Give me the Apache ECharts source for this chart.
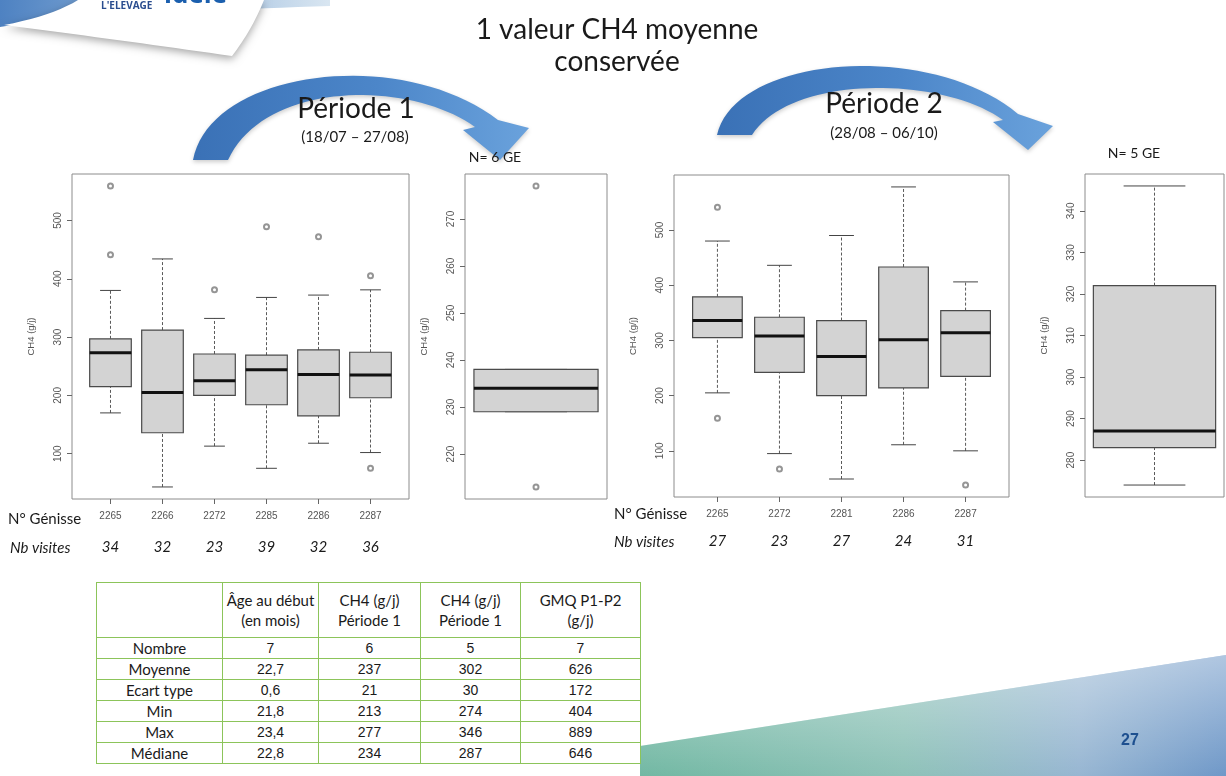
<!DOCTYPE html>
<html><head><meta charset="utf-8">
<script src="https://cdn.jsdelivr.net/npm/echarts@6/dist/echarts.min.js"></script>
<style>
html,body{margin:0;padding:0;background:#fff;width:1226px;height:776px;overflow:hidden;}
#chart{position:absolute;left:0;top:0;width:1226px;height:776px;}
#tbl{position:absolute;left:96px;top:582px;border-collapse:collapse;background:#fff;table-layout:fixed;}
#tbl td{border:1.5px solid #8cc45a;padding:0;text-align:center;color:#1a1a1a;height:20px;line-height:19px;font-family:Lato,"Open Sans",sans-serif;font-size:15px;}
#tbl td.num{font-family:"Liberation Sans",Arial,sans-serif;font-size:14px;}
#tbl tr.head td{height:54px;line-height:20px;}
</style></head><body>
<div id="chart"></div>
<table id="tbl"></table>
<script>
// ---------------- DATA ----------------
// Period 1 : heifers, number of visits, box stats [lower whisker, Q1, median, Q3, upper whisker]
const p1Heifers = ['2265', '2266', '2272', '2285', '2286', '2287'];
const p1Visits = [34, 32, 23, 39, 32, 36];
const p1Boxes = [
  [170, 215, 273, 297, 380],
  [43, 136, 205, 312, 434],
  [113, 200, 225, 271, 332],
  [75, 184, 244, 269, 368],
  [118, 165, 236, 278, 372],
  [102, 196, 235, 274, 381]
];
// outliers: [heifer index, value]
const p1Outliers = [[0, 559], [0, 441], [2, 381], [3, 489], [4, 472], [5, 405], [5, 75]];
// Period 1 : one mean value per heifer (N = 6 GE)
const p1MeanBox = [229, 229, 234, 238, 238];
const p1MeanOutliers = [277, 213];

// Period 2
const p2Heifers = ['2265', '2272', '2281', '2286', '2287'];
const p2Visits = [27, 23, 27, 24, 31];
const p2Boxes = [
  [205, 305, 336, 379, 480],
  [95, 242, 308, 342, 436],
  [49, 200, 271, 336, 490],
  [111, 214, 301, 433, 578],
  [100, 235, 314, 354, 406]
];
const p2Outliers = [[0, 541], [0, 159], [1, 67], [4, 38]];
// Period 2 : one mean value per heifer (N = 5 GE)
const p2MeanBox = [274, 283, 287, 322, 346];
const p2MeanOutliers = [];

// tick labels
const p1Ticks = [100, 200, 300, 400, 500];
const p1MeanTicks = [220, 230, 240, 250, 260, 270];
const p2Ticks = [100, 200, 300, 400, 500, 600];
const p2MeanTicks = [280, 290, 300, 310, 320, 330, 340];

// summary table
const tableHeader = ['', 'Âge au début\n(en mois)', 'CH4 (g/j)\nPériode 1', 'CH4 (g/j)\nPériode 1', 'GMQ P1-P2\n(g/j)'];
const tableRowLabels = ['Nombre', 'Moyenne', 'Ecart type', 'Min', 'Max', 'Médiane'];
const colAge = ['7', '22,7', '0,6', '21,8', '23,4', '22,8'];
const colCh4P1 = ['6', '237', '21', '213', '277', '234'];
const colCh4P2 = ['5', '302', '30', '274', '346', '287'];
const colGmq = ['7', '626', '172', '404', '889', '646'];

// ---------------- TABLE ----------------
(function () {
  const widths = [126, 96, 102, 100, 120];
  const t = document.getElementById('tbl');
  const cg = document.createElement('colgroup');
  widths.forEach(w => { const c = document.createElement('col'); c.style.width = w + 'px'; cg.appendChild(c); });
  t.appendChild(cg);
  const hr = document.createElement('tr'); hr.className = 'head';
  tableHeader.forEach(h => { const td = document.createElement('td'); td.innerHTML = h.replace('\n', '<br>'); hr.appendChild(td); });
  t.appendChild(hr);
  const cols = [colAge, colCh4P1, colCh4P2, colGmq];
  tableRowLabels.forEach((lab, r) => {
    const tr = document.createElement('tr');
    const td0 = document.createElement('td'); td0.textContent = lab; tr.appendChild(td0);
    cols.forEach(c => { const td = document.createElement('td'); td.className = 'num'; td.textContent = c[r]; tr.appendChild(td); });
    t.appendChild(tr);
  });
})();

// ---------------- CHART ----------------
const chart = echarts.init(document.getElementById('chart'), null, { renderer: 'canvas' });

function rRange(vals) { const mn = Math.min(...vals), mx = Math.max(...vals); const d = (mx - mn) * 0.04; return [mn - d, mx + d]; }
function xRange(n) { return [0.5 - 0.04 * n, n + 0.5 + 0.04 * n]; }

function boxRender(halfW, capW) {
  return function (params, api) {
    const x = api.value(0);
    const lo = api.value(1), q1 = api.value(2), med = api.value(3), q3 = api.value(4), hi = api.value(5);
    const pLo = api.coord([x, lo]), pQ1 = api.coord([x, q1]), pMed = api.coord([x, med]), pQ3 = api.coord([x, q3]), pHi = api.coord([x, hi]);
    const left = api.coord([x - halfW, q1])[0], right = api.coord([x + halfW, q1])[0];
    const cl = api.coord([x - capW, lo])[0], cr = api.coord([x + capW, lo])[0];
    const dash = { stroke: '#5a5a5a', lineWidth: 1, lineDash: [3, 2] };
    const solid = { stroke: '#444', lineWidth: 1 };
    return {
      type: 'group', children: [
        { type: 'line', shape: { x1: pLo[0], y1: pLo[1], x2: pQ1[0], y2: pQ1[1] }, style: dash },
        { type: 'line', shape: { x1: pQ3[0], y1: pQ3[1], x2: pHi[0], y2: pHi[1] }, style: dash },
        { type: 'line', shape: { x1: cl, y1: pLo[1], x2: cr, y2: pLo[1] }, style: solid },
        { type: 'line', shape: { x1: cl, y1: pHi[1], x2: cr, y2: pHi[1] }, style: solid },
        { type: 'rect', shape: { x: left, y: pQ3[1], width: right - left, height: pQ1[1] - pQ3[1] }, style: { fill: '#d3d3d3', stroke: '#4a4a4a', lineWidth: 1.2 } },
        { type: 'line', shape: { x1: left, y1: pMed[1], x2: right, y2: pMed[1] }, style: { stroke: '#111', lineWidth: 3 } }
      ]
    };
  };
}

const panels = [
  { grid: { left: 72, top: 174, width: 337, height: 325 }, names: p1Heifers, visits: p1Visits, boxes: p1Boxes, outliers: p1Outliers, ticks: p1Ticks, halfW: 0.4, capW: 0.2, visitMargin: 41 },
  { grid: { left: 465, top: 174, width: 142, height: 325 }, names: null, visits: null, boxes: [p1MeanBox], outliers: p1MeanOutliers.map(v => [0, v]), ticks: p1MeanTicks, halfW: 0.472, capW: 0.236 },
  { grid: { left: 674, top: 175, width: 335, height: 322 }, names: p2Heifers, visits: p2Visits, boxes: p2Boxes, outliers: p2Outliers, ticks: p2Ticks, halfW: 0.4, capW: 0.2, visitMargin: 37 },
  { grid: { left: 1085, top: 174, width: 139, height: 323 }, names: null, visits: null, boxes: [p2MeanBox], outliers: p2MeanOutliers.map(v => [0, v]), ticks: p2MeanTicks, halfW: 0.475, capW: 0.24 }
];

const grids = [], xAxes = [], yAxes = [], series = [];
const axisFont = '"Liberation Sans", Arial, sans-serif';
panels.forEach((p, gi) => {
  grids.push(Object.assign({ show: true, borderColor: '#8c8c8c', borderWidth: 1, backgroundColor: 'transparent', containLabel: false }, p.grid));
  const n = p.boxes.length;
  const xr = xRange(n);
  const allVals = [].concat(...p.boxes, p.outliers.map(o => o[1]));
  const yr = rRange(allVals);
  const cats = p.boxes.map((b, i) => i + 1);
  const xMain = xAxes.length;
  xAxes.push({
    type: 'value', gridIndex: gi, min: xr[0], max: xr[1], position: 'bottom',
    axisLine: { show: false }, splitLine: { show: false },
    axisTick: { show: !!p.names, customValues: cats, length: 5, lineStyle: { color: '#666' } },
    axisLabel: { show: !!p.names, customValues: cats, margin: 12, fontSize: 10, color: '#555', fontFamily: axisFont,
      formatter: v => p.names ? p.names[Math.round(v) - 1] : '' }
  });
  if (p.visits) {
    xAxes.push({
      type: 'value', gridIndex: gi, min: xr[0], max: xr[1], position: 'bottom',
      axisLine: { show: false }, splitLine: { show: false }, axisTick: { show: false },
      axisLabel: { customValues: cats, margin: p.visitMargin, fontSize: 15, fontStyle: 'italic', color: '#1a1a1a', fontFamily: 'Lato, "Open Sans", sans-serif',
        formatter: v => String(p.visits[Math.round(v) - 1]) }
    });
  }
  yAxes.push({
    type: 'value', gridIndex: gi, min: yr[0], max: yr[1],
    axisLine: { show: false }, splitLine: { show: false },
    axisTick: { show: true, customValues: p.ticks, length: 5, lineStyle: { color: '#666' } },
    axisLabel: { customValues: p.ticks, rotate: 90, align: 'center', verticalAlign: 'bottom', margin: 9, fontSize: 10, color: '#555', fontFamily: axisFont },
    name: 'CH4 (g/j)', nameLocation: 'middle', nameRotate: 90, nameGap: 36,
    nameTextStyle: { fontSize: 9.5, color: '#555', fontFamily: axisFont }
  });
  series.push({
    type: 'custom', xAxisIndex: xMain, yAxisIndex: gi,
    renderItem: boxRender(p.halfW, p.capW),
    encode: { x: 0, y: [1, 2, 3, 4, 5] },
    data: p.boxes.map((b, i) => [i + 1].concat(b)),
    silent: true, clip: false
  });
  if (p.outliers.length) {
    series.push({
      type: 'scatter', xAxisIndex: xMain, yAxisIndex: gi,
      symbol: 'emptyCircle', symbolSize: 5,
      itemStyle: { color: '#7a7a7a', borderWidth: 0.8 },
      data: p.outliers.map(o => [o[0] + 1, o[1]]), silent: true
    });
  }
});

// --- decorative shape helpers (bezier sampling into polygons) ---
function cubicPts(p0, p1, p2, p3, n) {
  const out = [];
  for (let i = 0; i <= n; i++) {
    const t = i / n, u = 1 - t;
    out.push([u*u*u*p0[0] + 3*u*u*t*p1[0] + 3*u*t*t*p2[0] + t*t*t*p3[0],
              u*u*u*p0[1] + 3*u*u*t*p1[1] + 3*u*t*t*p2[1] + t*t*t*p3[1]]);
  }
  return out;
}
function quadPts(p0, p1, p2, n) {
  const out = [];
  for (let i = 0; i <= n; i++) {
    const t = i / n, u = 1 - t;
    out.push([u*u*p0[0] + 2*u*t*p1[0] + t*t*p2[0], u*u*p0[1] + 2*u*t*p1[1] + t*t*p2[1]]);
  }
  return out;
}
function arrowPts(tailOut, c1, c2, shaftOut, headR, tip, headL, shaftIn, c3, c4, tailIn) {
  return [].concat(cubicPts(tailOut, c1, c2, shaftOut, 40), [headR, tip, headL], cubicPts(shaftIn, c3, c4, tailIn, 40));
}

const slideFont = 'Lato, "Open Sans", sans-serif';
const arrowFill = { type: 'linear', x: 0, y: 0, x2: 1, y2: 0, colorStops: [
  { offset: 0, color: '#3a71b6' }, { offset: 0.55, color: '#4c86c9' }, { offset: 1, color: '#6aa2dc' }] };
const bannerPts = [[640, 776], [640, 746], [1226, 655], [1226, 776]];

const graphic = [
  // bottom banner
  { type: 'polygon', z: -10, shape: { points: bannerPts },
    style: { fill: { type: 'linear', x: 0, y: 0, x2: 1, y2: 0, colorStops: [
      { offset: 0, color: '#72b8a3' }, { offset: 0.45, color: '#8ec2b8' }, { offset: 0.75, color: '#97b6d2' }, { offset: 1, color: '#6f98c8' }] } } },
  { type: 'polygon', z: -9, shape: { points: bannerPts },
    style: { fill: { type: 'linear', x: 0, y: 0, x2: 0, y2: 1, colorStops: [
      { offset: 0, color: 'rgba(255,255,255,0.45)' }, { offset: 1, color: 'rgba(255,255,255,0)' }] } } },
  { type: 'text', style: { text: '27', x: 1130, y: 741, align: 'center', verticalAlign: 'middle', font: 'bold 16px "Liberation Sans", Arial, sans-serif', fill: '#1d4f8f' } },
  // logo
  { type: 'polygon', z: -5, shape: { points: [[0, 0], [330, 0], [330, 6]].concat(quadPts([330, 6], [200, 10], [80, 18], 16), quadPts([80, 18], [30, 22], [0, 27], 10)) },
    style: { fill: { type: 'linear', x: 0, y: 0, x2: 1, y2: 0, colorStops: [
      { offset: 0, color: '#4e82c2' }, { offset: 0.5, color: '#8fb3da' }, { offset: 1, color: '#d9e6f1' }] } } },
  { type: 'polygon', z: -4, shape: { points: [[78, 0], [264, 0]].concat(quadPts([264, 0], [252, 30], [232, 56], 16), quadPts([232, 56], [120, 40], [4, 25], 20), quadPts([4, 25], [52, 16], [78, 0], 10)) },
    style: { fill: '#ffffff', shadowBlur: 9, shadowColor: 'rgba(0,0,0,0.35)', shadowOffsetY: 3 } },
  { type: 'text', style: { text: "L'ELEVAGE", x: 101, y: 6, verticalAlign: 'middle', font: 'bold 10px "Open Sans", sans-serif', fill: '#2a4d8f' } },
  { type: 'text', style: { text: 'idele', x: 164, y: 9, verticalAlign: 'bottom', font: 'bold 26px "Open Sans", sans-serif', fill: '#1b5fae' } },
  // title
  { type: 'text', style: { text: '1 valeur CH4 moyenne', x: 617, y: 30, align: 'center', verticalAlign: 'middle', font: '28px ' + slideFont, fill: '#1a1a1a' } },
  { type: 'text', style: { text: 'conservée', x: 617, y: 62, align: 'center', verticalAlign: 'middle', font: '28px ' + slideFont, fill: '#1a1a1a' } },
  // arrows
  { type: 'polygon', shape: { points: arrowPts([193, 160], [210, 70], [400, 45], [498, 120], [529, 128], [500, 160], [463, 130], [475, 127], [410, 80], [265, 80], [228, 160]) },
    style: { fill: arrowFill, shadowBlur: 4, shadowColor: 'rgba(0,0,0,0.2)', shadowOffsetY: 2 } },
  { type: 'polygon', shape: { points: arrowPts([717, 135], [735, 55], [930, 40], [1018, 114], [1053, 126], [1028, 150], [993, 122], [1003, 120], [940, 75], [790, 75], [752, 135]) },
    style: { fill: arrowFill, shadowBlur: 4, shadowColor: 'rgba(0,0,0,0.2)', shadowOffsetY: 2 } },
  { type: 'text', style: { text: 'Période 1', x: 356, y: 109, align: 'center', verticalAlign: 'middle', font: '28px ' + slideFont, fill: '#1a1a1a' } },
  { type: 'text', style: { text: '(18/07 – 27/08)', x: 355, y: 137, align: 'center', verticalAlign: 'middle', font: '15px ' + slideFont, fill: '#1a1a1a' } },
  { type: 'text', style: { text: 'Période 2', x: 884, y: 104, align: 'center', verticalAlign: 'middle', font: '28px ' + slideFont, fill: '#1a1a1a' } },
  { type: 'text', style: { text: '(28/08 – 06/10)', x: 884, y: 133, align: 'center', verticalAlign: 'middle', font: '15px ' + slideFont, fill: '#1a1a1a' } },
  { type: 'text', style: { text: 'N= 6 GE', x: 495, y: 157, align: 'center', verticalAlign: 'middle', font: '14px ' + slideFont, fill: '#1a1a1a' } },
  { type: 'text', style: { text: 'N= 5 GE', x: 1134, y: 153, align: 'center', verticalAlign: 'middle', font: '14px ' + slideFont, fill: '#1a1a1a' } },
  // row captions
  { type: 'text', style: { text: 'N° Génisse', x: 8, y: 519, verticalAlign: 'middle', font: '15px ' + slideFont, fill: '#1a1a1a' } },
  { type: 'text', style: { text: 'Nb visites', x: 10, y: 548, verticalAlign: 'middle', font: 'italic 15px ' + slideFont, fill: '#1a1a1a' } },
  { type: 'text', style: { text: 'N° Génisse', x: 614, y: 514, verticalAlign: 'middle', font: '15px ' + slideFont, fill: '#1a1a1a' } },
  { type: 'text', style: { text: 'Nb visites', x: 614, y: 542, verticalAlign: 'middle', font: 'italic 15px ' + slideFont, fill: '#1a1a1a' } }
];

chart.setOption({
  backgroundColor: '#ffffff',
  animation: false,
  grid: grids,
  xAxis: xAxes,
  yAxis: yAxes,
  series: series,
  graphic: graphic
});
</script>
</body></html>
